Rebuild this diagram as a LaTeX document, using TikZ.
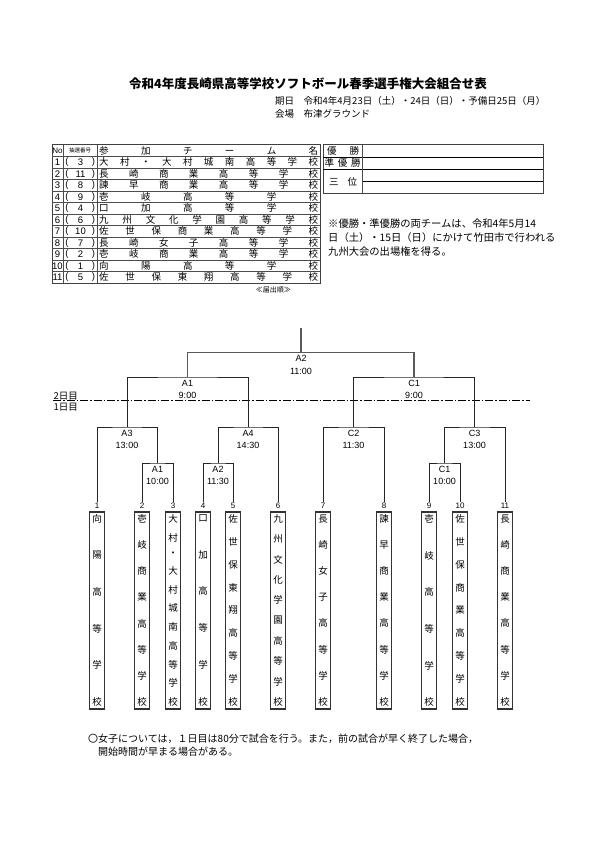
\documentclass[tikz,border=0pt]{standalone}
\usepackage{fontspec}
\setmainfont{Liberation Sans}
\newfontfamily\jp{Noto Sans CJK JP}
\makeatletter
\newcommand\hsp[2]{\makebox[#1][s]{\expandafter\@hsp#2\@nil}}
\def\@hsp#1#2\@nil{#1\ifx\relax#2\relax\else\hfill\@hsp#2\@nil\fi}
\newcommand\vsp[2]{\vbox to #1{\offinterlineskip\expandafter\@vsp#2\@nil}}
\def\@vsp#1#2\@nil{\hbox to 12pt{\hss#1\hss}\ifx\relax#2\relax\else\vfill\@vsp#2\@nil\fi}
\makeatother
\begin{document}
\begin{tikzpicture}[x=1pt,y=-1pt,
  jpt/.style={font=\jp\fontsize{9.5}{11}\selectfont, inner sep=0pt},
  tout/.style={draw=black!75, line width=1pt},
  tin/.style={draw=black!70, line width=0.6pt},
  rline/.style={draw=black, line width=0.9pt},
  bline/.style={draw=black!85, line width=0.9pt},
  topline/.style={draw=black!65, line width=1.3pt},
  mlbl/.style={font=\fontsize{9}{12.5}\selectfont, align=center, anchor=north, inner sep=0pt, yshift=-3pt},
  num/.style={font=\fontsize{8}{9}\selectfont, inner sep=1pt},
  teambox/.style={draw=black!80, line width=1.3pt, minimum width=15pt, minimum height=197pt, inner sep=0pt, font=\jp\fontsize{9.5}{11}\selectfont},
  dashdot/.style={draw=black, line width=0.8pt, dash pattern=on 8pt off 2pt on 1.5pt off 2pt}]
\useasboundingbox[fill=white] (0,0) rectangle (595,842);

% title and header info
\node[font=\jp\bfseries\fontsize{12.5}{14}\selectfont, inner sep=0pt] (title) at (308,84) {令和4年度長崎県高等学校ソフトボール春季選手権大会組合せ表};
\node[font=\jp\fontsize{9.5}{12}\selectfont, anchor=west, inner sep=0pt] (date) at (275,101) {期日　令和4年4月23日（土）・24日（日）・予備日25日（月）};
\node[font=\jp\fontsize{9.5}{12}\selectfont, anchor=west, inner sep=0pt] (venue) at (275,114) {会場　布津グラウンド};

% entry table
\draw[tout] (52,145) rectangle (320,283);
\foreach \k in {1,...,11} \draw[tin] (52,{145+11.5*\k}) -- (320,{145+11.5*\k});
\draw[tin] (63,145) -- (63,283);
\draw[tin] (97,145) -- (97,283);
\node[font=\fontsize{8}{8}\selectfont, inner sep=0pt] (hno) at (57.5,150.75) {No};
\node[font=\jp\fontsize{5.5}{6}\selectfont, inner sep=0pt] (hlot) at (80,150.75) {抽選番号};
\node[jpt, anchor=west] (hname) at (99,150.75) {\hsp{219pt}{参加チーム名}};
\foreach \no/\lot/\nm [count=\k] in {1/3/大村・大村城南高等学校, 2/11/長崎商業高等学校, 3/8/諫早商業高等学校, 4/9/壱岐高等学校, 5/4/口加高等学校, 6/6/九州文化学園高等学校, 7/10/佐世保商業高等学校, 8/7/長崎女子高等学校, 9/2/壱岐商業高等学校, 10/1/向陽高等学校, 11/5/佐世保東翔高等学校}{
  \node[font=\fontsize{9.5}{10}\selectfont, inner sep=0pt] (no\k) at (57.5,{145+11.5*\k+5.75}) {\no};
  \node[font=\fontsize{9.5}{10}\selectfont, inner sep=0pt] (lp\k) at (67,{145+11.5*\k+5.75}) {(};
  \node[font=\fontsize{9.5}{10}\selectfont, inner sep=0pt] (lot\k) at (80.5,{145+11.5*\k+5.75}) {\lot};
  \node[font=\fontsize{9.5}{10}\selectfont, inner sep=0pt] (rp\k) at (93.5,{145+11.5*\k+5.75}) {)};
  \node[jpt, anchor=west] (nm\k) at (99,{145+11.5*\k+5.75}) {\hsp{219pt}{\nm}};
}
\node[font=\jp\fontsize{7}{8}\selectfont, anchor=east, inner sep=0pt] (order) at (291,290) {≪届出順≫};

% result table
\draw[tout] (323,145) rectangle (543,194);
\draw[rline] (323,157) -- (543,157);
\draw[rline] (323,169) -- (543,169);
\draw[rline] (362,181.5) -- (543,181.5);
\draw[tin] (362,145) -- (362,194);
\node[jpt, anchor=west] (win) at (327,151) {\hsp{32pt}{優勝}};
\node[jpt, anchor=west] (run) at (324.5,163) {\hsp{36pt}{準優勝}};
\node[jpt, anchor=west] (third) at (329,181.5) {\hsp{28pt}{三位}};

% notice
\node[font=\jp\fontsize{10.3}{14}\selectfont, anchor=north west, align=left, inner sep=0pt] (notice) at (328,219) {※優勝・準優勝の両チームは、令和4年5月14\\日（土）・15日（日）にかけて竹田市で行われる\\九州大会の出場権を得る。};

% day separator
\coordinate (dl) at (53,400.7);
\coordinate (dr) at (530,400.7);
\draw[dashdot] (dl) -- (dr);
\node[jpt, anchor=south west, inner sep=0.5pt] (day2) at (dl) {2日目};
\node[jpt, anchor=north west, inner sep=0.5pt] (day1) at ([yshift=-1.5pt]dl) {1日目};

% teams
\foreach \i/\x/\nm in {1/97/向陽高等学校, 2/142/壱岐商業高等学校, 3/173/大村・大村城南高等学校, 4/203/口加高等学校, 5/233/佐世保東翔高等学校, 6/278/九州文化学園高等学校, 7/323/長崎女子高等学校, 8/384/諫早商業高等学校, 9/429/壱岐高等学校, 10/460/佐世保商業高等学校, 11/505/長崎商業高等学校}{
  \node[num] (n\i) at (\x,506) {\i};
  \node[teambox] (t\i) at (\x,610.5) {\vsp{191pt}{\nm}};
}

% match points
\coordinate (top) at (301,328);
\coordinate (F) at (301,352.5);
\coordinate (A1) at (187.5,377);
\coordinate (C1) at (414,377);
\coordinate (A3) at (127,427);
\coordinate (A4) at (248,427);
\coordinate (C2) at (353.5,427);
\coordinate (C3) at (474.5,427);
\coordinate (A1s) at (157.5,463);
\coordinate (A2s) at (218,463);
\coordinate (C1s) at (444.5,463);

\draw[bline] (n2.north) |- (A1s) -| (n3.north);
\draw[bline] (n4.north) |- (A2s) -| (n5.north);
\draw[bline] (n9.north) |- (C1s) -| (n10.north);
\draw[bline] (n1.north) |- (A3) -| (A1s);
\draw[bline] (A2s) |- (A4) -| (n6.north);
\draw[bline] (n7.north) |- (C2) -| (n8.north);
\draw[bline] (C1s) |- (C3) -| (n11.north);
\draw[bline] (A3) |- (A1) -| (A4);
\draw[bline] (C2) |- (C1) -| (C3);
\draw[topline] (A1) |- (F) -| (C1);
\draw[topline] (F) -- (top);

\node[mlbl] (lF) at (F) {A2\\11:00};
\node[mlbl] (lA1) at (A1) {A1\\9:00};
\node[mlbl] (lC1) at (C1) {C1\\9:00};
\node[mlbl] (lA3) at (A3) {A3\\13:00};
\node[mlbl] (lA4) at (A4) {A4\\14:30};
\node[mlbl] (lC2) at (C2) {C2\\11:30};
\node[mlbl] (lC3) at (C3) {C3\\13:00};
\node[mlbl] (lA1s) at (A1s) {A1\\10:00};
\node[mlbl] (lA2s) at (A2s) {A2\\11:30};
\node[mlbl] (lC1s) at (C1s) {C1\\10:00};

% bottom note
\node[font=\jp\fontsize{10}{13}\selectfont, anchor=north west, align=left, inner sep=0pt] (note) at (88,734) {〇女子については，１日目は80分で試合を行う。また，前の試合が早く終了した場合，\\　開始時間が早まる場合がある。};
\end{tikzpicture}
\end{document}
